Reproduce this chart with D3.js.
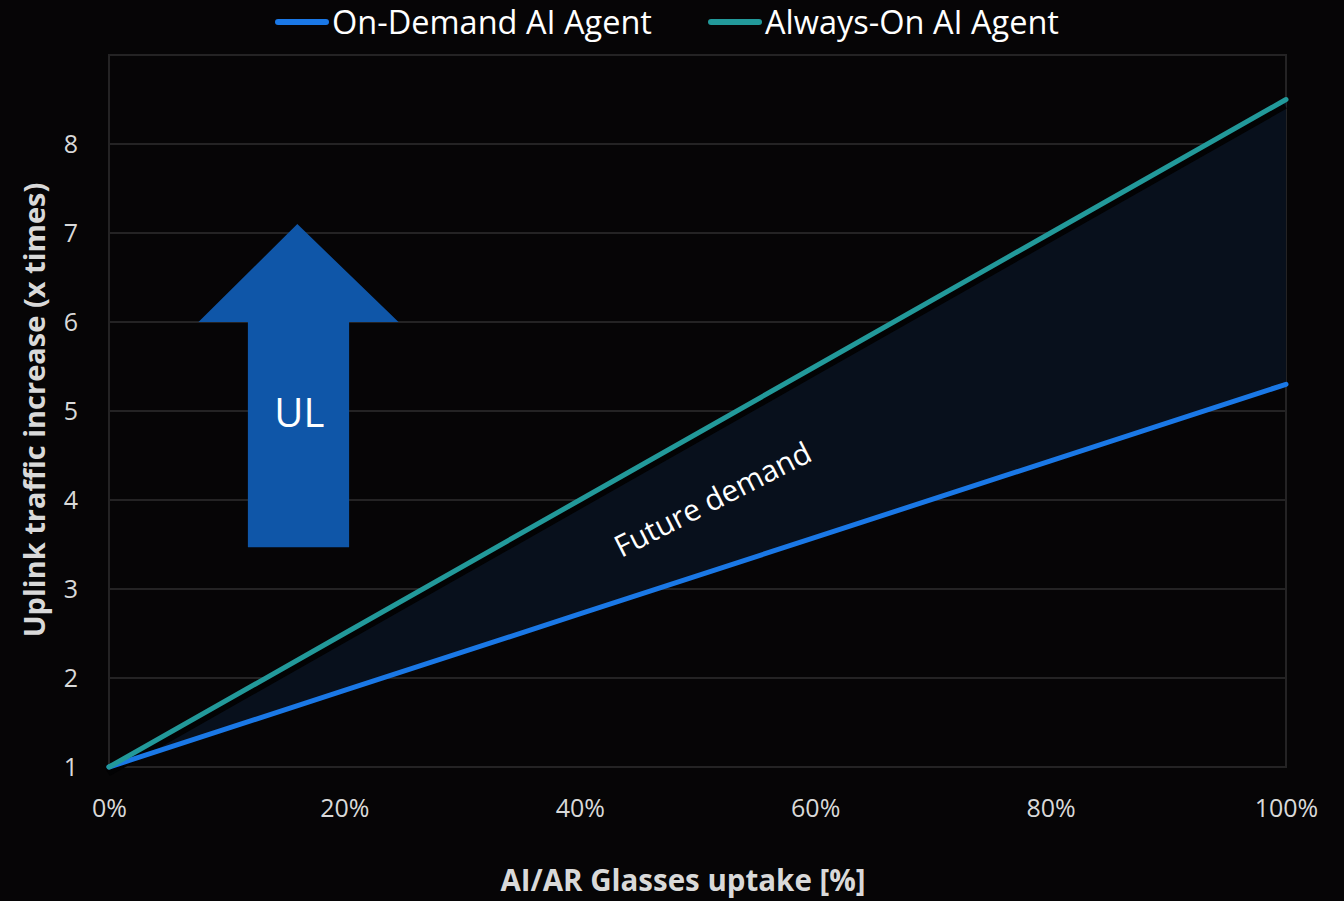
<!DOCTYPE html>
<html>
<head>
<meta charset="utf-8">
<script src="https://cdn.jsdelivr.net/npm/d3@7"></script>
<style>
  html, body { margin: 0; padding: 0; background: #060506; }
  svg { display: block; font-family: "Open Sans", Lato, sans-serif; }
</style>
</head>
<body>
<div id="chart"></div>
<script>
const uptake = [0, 20, 40, 60, 80, 100];
const onDemand = [1, 1.86, 2.72, 3.58, 4.44, 5.3];
const alwaysOn = [1, 2.5, 4, 5.5, 7, 8.5];
const xTicks = [0, 20, 40, 60, 80, 100];
const yTicks = [1, 2, 3, 4, 5, 6, 7, 8];
const seriesNames = ['On-Demand AI Agent', 'Always-On AI Agent'];
// arrow annotation in data units: tip, head base, shaft bottom
const arrowX = { tip: 16, headL: 7.6, headR: 24.6, shaftL: 11.8, shaftR: 20.4 };
const arrowY = { tip: 7.1, head: 6.0, bottom: 3.47 };

const w = 1344, h = 901;
const plot = { left: 109, right: 1286, top: 55, bottom: 767 };

const svg = d3.select('#chart').append('svg').attr('width', w).attr('height', h);
svg.append('rect').attr('width', w).attr('height', h).attr('fill', '#060506');

const xScale = d3.scaleLinear().domain([0, 100]).range([plot.left, plot.right]);
const yScale = d3.scaleLinear().domain([1, 9]).range([plot.bottom, plot.top]);

// grid + frame
svg.append('g').selectAll('line')
    .data(yTicks.slice(1))
    .enter().append('line')
    .attr('x1', plot.left).attr('x2', plot.right)
    .attr('y1', d => yScale(d)).attr('y2', d => yScale(d))
    .attr('stroke', '#242324').attr('stroke-width', 2);
svg.append('rect')
    .attr('x', plot.left).attr('y', plot.top)
    .attr('width', plot.right - plot.left).attr('height', plot.bottom - plot.top)
    .attr('fill', 'none').attr('stroke', '#242324').attr('stroke-width', 2);

// axes
const xAxis = d3.axisBottom(xScale).tickValues(xTicks).tickFormat(d => d + '%').tickSize(0).tickPadding(32);
const yAxis = d3.axisLeft(yScale).tickValues(yTicks).tickFormat(d3.format('d')).tickSize(0).tickPadding(31);
const gx = svg.append('g').attr('transform', 'translate(0,' + plot.bottom + ')').call(xAxis);
const gy = svg.append('g').attr('transform', 'translate(' + plot.left + ',0)').call(yAxis);
[gx, gy].forEach(g => {
    g.select('.domain').remove();
    g.selectAll('text').attr('fill', '#d9d9d9').style('font-size', '25px').style('font-family', '"Open Sans", sans-serif');
});

const rows = uptake.map((u, i) => ({ u: u, lo: onDemand[i], hi: alwaysOn[i] }));

// shaded "future demand" band
svg.append('path')
    .datum(rows)
    .attr('fill', '#08101c')
    .attr('d', d3.area().x(d => xScale(d.u)).y0(d => yScale(d.lo)).y1(d => yScale(d.hi)));

const line = key => d3.line().x(d => xScale(d.u)).y(d => yScale(d[key]));
// dark shadow under the upper line
svg.append('path').datum(rows)
    .attr('fill', 'none').attr('stroke', '#020203').attr('stroke-width', 7)
    .attr('transform', 'translate(-1,6)')
    .attr('d', line('hi'));
svg.append('path').datum(rows)
    .attr('fill', 'none').attr('stroke', '#1a78e6').attr('stroke-width', 5).attr('stroke-linecap', 'round')
    .attr('d', line('lo'));
svg.append('path').datum(rows)
    .attr('fill', 'none').attr('stroke', '#22999a').attr('stroke-width', 5).attr('stroke-linecap', 'round')
    .attr('d', line('hi'));

// band label
svg.append('text')
    .attr('transform', 'translate(' + xScale(51.7) + ',' + yScale(3.9) + ') rotate(-27)')
    .attr('text-anchor', 'middle')
    .attr('fill', '#ffffff')
    .style('font-size', '30px')
    .text('Future demand');

// UL arrow
const ap = [
    [arrowX.tip, arrowY.tip], [arrowX.headR, arrowY.head], [arrowX.shaftR, arrowY.head],
    [arrowX.shaftR, arrowY.bottom], [arrowX.shaftL, arrowY.bottom], [arrowX.shaftL, arrowY.head],
    [arrowX.headL, arrowY.head]
];
svg.append('polygon')
    .attr('points', ap.map(p => xScale(p[0]) + ',' + yScale(p[1])).join(' '))
    .attr('fill', '#0f56a8');
svg.append('text')
    .attr('x', xScale(arrowX.tip) + 2).attr('y', 427)
    .attr('text-anchor', 'middle')
    .attr('fill', '#ffffff').style('font-size', '40px')
    .text('UL');

// axis titles
svg.append('text')
    .attr('x', 683).attr('y', 891)
    .attr('text-anchor', 'middle')
    .attr('fill', '#d9d9d9').style('font-size', '29.5px').style('font-weight', 'bold')
    .text('AI/AR Glasses uptake [%]');
svg.append('text')
    .attr('transform', 'translate(45,410) rotate(-90)')
    .attr('text-anchor', 'middle')
    .attr('fill', '#d9d9d9').style('font-size', '29px').style('font-weight', 'bold')
    .text('Uplink traffic increase (x times)');

// legend
const legend = svg.append('g');
const legendItems = [
    { name: seriesNames[0], color: '#1a78e6', x: 275 },
    { name: seriesNames[1], color: '#22999a', x: 708 }
];
legendItems.forEach(it => {
    legend.append('line')
        .attr('x1', it.x + 3).attr('x2', it.x + 51)
        .attr('y1', 22).attr('y2', 22)
        .attr('stroke', it.color).attr('stroke-width', 6).attr('stroke-linecap', 'round');
    legend.append('text')
        .attr('x', it.x + 57).attr('y', 34)
        .attr('fill', '#ffffff').style('font-size', '32.5px')
        .text(it.name);
});
</script>
</body>
</html>
